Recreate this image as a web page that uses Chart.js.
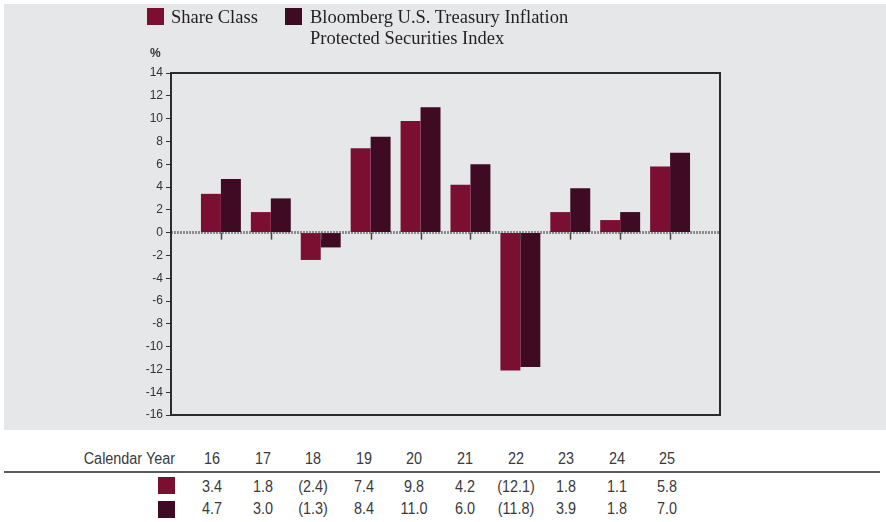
<!DOCTYPE html>
<html>
<head>
<meta charset="utf-8">
<script src="https://cdn.jsdelivr.net/npm/chart.js@4"></script>
<style>
  html, body { margin: 0; padding: 0; background: #ffffff; width: 886px; height: 522px; overflow: hidden; }
  #panel { position: absolute; left: 4px; top: 4px; width: 882px; height: 426px; background: #e6e7e9; }
  #chart { position: absolute; left: 0; top: 0; }
  .lg-box { position: absolute; width: 17px; height: 17px; }
  .lg-text { position: absolute; font-family: "Liberation Serif", "Times New Roman", serif; font-size: 18.5px; line-height: 21px; color: #231f20; white-space: nowrap; }
  #pct { position: absolute; left: 150px; top: 47px; font-family: "Liberation Sans", Arial, sans-serif; font-weight: bold; font-size: 12px; line-height: 12px; color: #333; }
  .tb { position: absolute; font-family: "Liberation Sans", Arial, sans-serif; font-size: 16px; line-height: 20px; color: #3a3a3a; white-space: nowrap; text-align: center; width: 60px; transform: scaleX(0.9); transform-origin: 50% 50%; }
  .tb.lab { transform-origin: 100% 50%; text-align: right; }
  #rule { position: absolute; left: 4px; top: 471px; width: 876px; height: 2px; background: #5a5a5a; }
  .tbox { position: absolute; width: 17px; height: 17px; }
</style>
</head>
<body>
<div id="panel"><canvas id="chart" width="882" height="426"></canvas></div>
<div id="legend"></div>
<div id="pct">%</div>
<div id="table"></div>
<div id="rule"></div>
<script>
// ---- data ----
const years = ['16', '17', '18', '19', '20', '21', '22', '23', '24', '25'];
const shareClass = [3.4, 1.8, -2.4, 7.4, 9.8, 4.2, -12.1, 1.8, 1.1, 5.8];
const tipsIndex = [4.7, 3.0, -1.3, 8.4, 11.0, 6.0, -11.8, 3.9, 1.8, 7.0];
const seriesNames = ['Share Class', 'Bloomberg U.S. Treasury Inflation Protected Securities Index'];
const yTicks = [14, 12, 10, 8, 6, 4, 2, 0, -2, -4, -6, -8, -10, -12, -14, -16];
const tableLabel = 'Calendar Year';

const colors = ['#7a0f32', '#3e0a24'];

// ---- legend (HTML) ----
const legend = document.getElementById('legend');
function addEl(parent, cls, style, text) {
  const d = document.createElement('div');
  d.className = cls;
  Object.assign(d.style, style);
  if (text !== undefined) d.innerHTML = text;
  parent.appendChild(d);
  return d;
}
addEl(legend, 'lg-box', { left: '147px', top: '8px', background: colors[0] });
addEl(legend, 'lg-text', { left: '171px', top: '7px' }, seriesNames[0]);
addEl(legend, 'lg-box', { left: '285px', top: '8px', background: colors[1] });
addEl(legend, 'lg-text', { left: '310px', top: '7px' }, 'Bloomberg U.S. Treasury Inflation<br>Protected Securities Index');

// ---- table (HTML) ----
const table = document.getElementById('table');
const fmt = v => v < 0 ? '(' + Math.abs(v).toFixed(1) + ')' : v.toFixed(1);
addEl(table, 'tb lab', { left: '0px', top: '449px', width: '175px' }, tableLabel);
years.forEach((y, i) => {
  const cx = 212 + i * 50.6;
  addEl(table, 'tb', { left: (cx - 30) + 'px', top: '449px' }, y);
  addEl(table, 'tb', { left: (cx - 30) + 'px', top: '477px' }, fmt(shareClass[i]));
  addEl(table, 'tb', { left: (cx - 30) + 'px', top: '499px' }, fmt(tipsIndex[i]));
});
addEl(table, 'tbox', { left: '158px', top: '477px', background: colors[0] });
addEl(table, 'tbox', { left: '158px', top: '501px', background: colors[1] });

// ---- chart ----
const labels = [''].concat(years, ['']);
const pad = arr => [null].concat(arr, [null]);

const framePlugin = {
  id: 'frame',
  beforeDatasetsDraw(chart) {
    const { ctx, chartArea: a, scales } = chart;
    const y0 = scales.y.getPixelForValue(0);
    ctx.save();
    ctx.strokeStyle = '#8c8c8c';
    ctx.lineWidth = 3;
    ctx.setLineDash([2, 1]);
    ctx.beginPath();
    ctx.moveTo(a.left, y0);
    ctx.lineTo(a.right, y0);
    ctx.stroke();
    ctx.restore();
  },
  afterDatasetsDraw(chart) {
    const { ctx, chartArea: a, scales } = chart;
    const y0 = scales.y.getPixelForValue(0);
    ctx.save();
    ctx.strokeStyle = '#444';
    ctx.lineWidth = 1.5;
    labels.forEach((l, i) => {
      if (!l) return;
      const x = Math.round(scales.x.getPixelForValue(i)) + 0.5;
      ctx.beginPath();
      ctx.moveTo(x, y0);
      ctx.lineTo(x, y0 + 7);
      ctx.stroke();
    });
    ctx.strokeStyle = '#2b2b2b';
    ctx.lineWidth = 2;
    ctx.strokeRect(a.left, a.top, a.right - a.left, a.bottom - a.top);
    ctx.restore();
  }
};

new Chart(document.getElementById('chart'), {
  type: 'bar',
  data: {
    labels: labels,
    datasets: [
      { label: seriesNames[0], data: pad(shareClass), backgroundColor: colors[0], borderWidth: 0,
        categoryPercentage: 0.8, barPercentage: 1.0 },
      { label: seriesNames[1], data: pad(tipsIndex), backgroundColor: colors[1], borderWidth: 0,
        categoryPercentage: 0.8, barPercentage: 1.0 }
    ]
  },
  options: {
    responsive: false,
    animation: false,
    layout: { padding: { left: 122, top: 69, right: 166, bottom: 15 } },
    plugins: { legend: { display: false }, tooltip: { enabled: false } },
    scales: {
      x: {
        type: 'category',
        offset: false,
        display: false,
        grid: { offset: false }
      },
      y: {
        min: -16,
        max: 14,
        afterFit: s => { s.width = 45; },
        afterBuildTicks: s => { s.ticks = yTicks.map(v => ({ value: v })); },
        border: { display: false },
        grid: { drawOnChartArea: false, drawTicks: true, tickLength: 5, color: '#333', lineWidth: 1 },
        ticks: {
          padding: 3,
          color: '#333',
          font: { family: '"Liberation Sans", Arial, sans-serif', size: 12 }
        }
      }
    }
  },
  plugins: [framePlugin]
});
</script>
</body>
</html>
